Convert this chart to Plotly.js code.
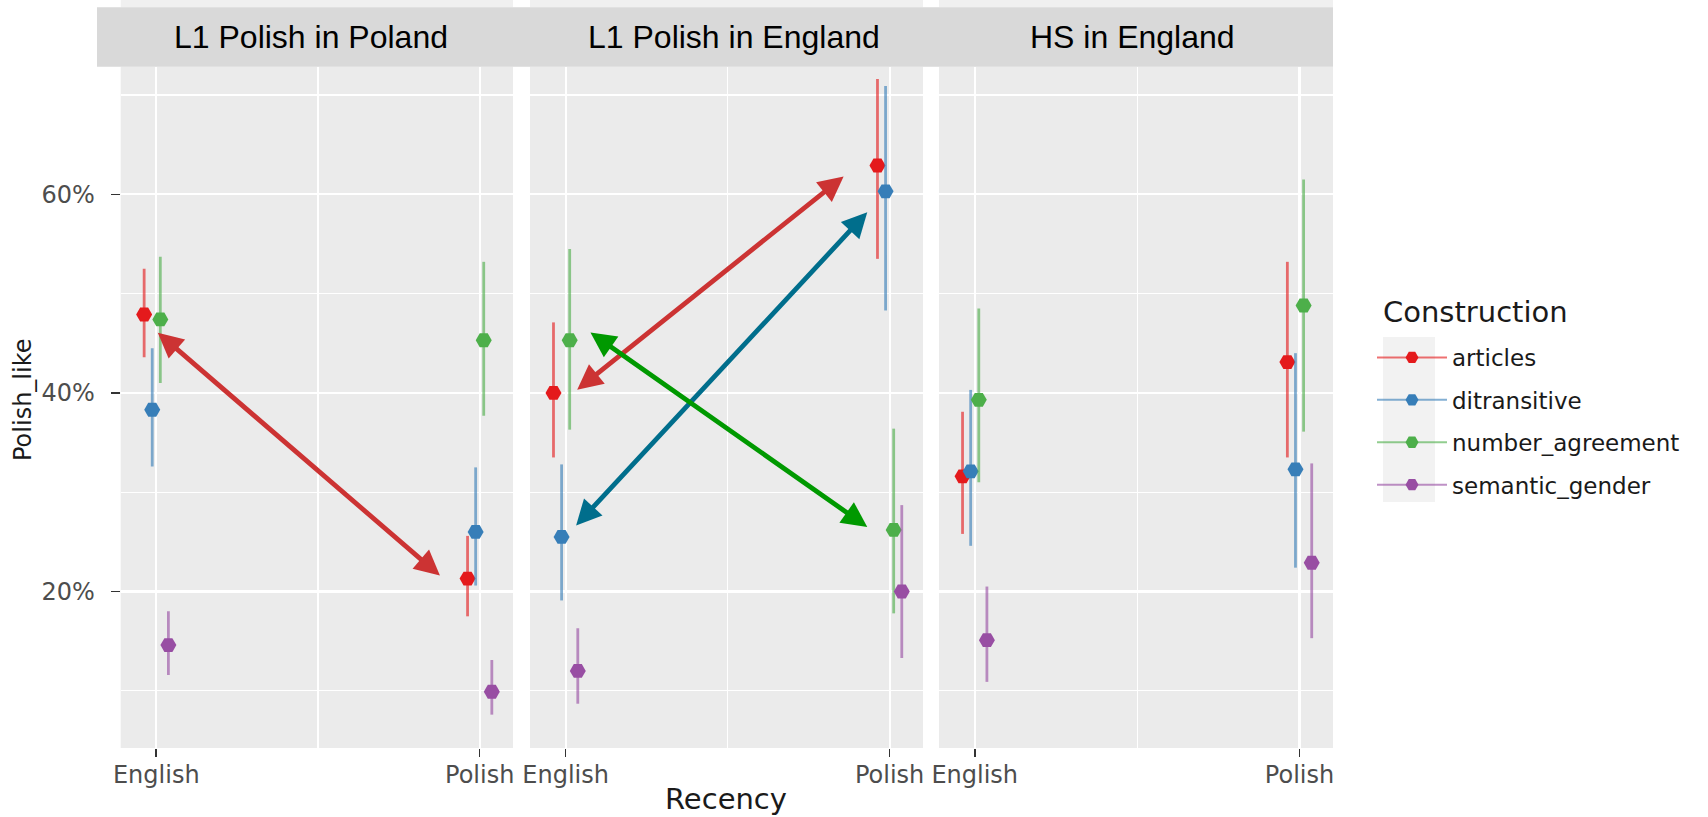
<!DOCTYPE html>
<html>
<head>
<meta charset="utf-8">
<script src="https://cdn.plot.ly/plotly-3.0.1.min.js"></script>
<style>
  html, body { margin: 0; padding: 0; background: #ffffff; }
  #chart { width: 1708px; height: 817px; }
</style>
</head>
<body>
<div id="chart"></div>
<script>
// ---------------- data (percent) ----------------
// order of every value array: [Poland-English, Poland-Polish, EnglandL1-English, EnglandL1-Polish, HS-English, HS-Polish]
const panels = ['L1 Polish in Poland', 'L1 Polish in England', 'HS in England'];
const recency = ['English', 'Polish'];
const constructions = ['articles', 'ditransitive', 'number_agreement', 'semantic_gender'];

const articles_mean = [47.9, 21.3, 40.0, 62.9, 31.6, 43.1];
const articles_lo   = [43.6, 17.5, 33.5, 53.5, 25.8, 33.5];
const articles_hi   = [52.5, 25.6, 47.1, 71.6, 38.1, 53.2];

const ditransitive_mean = [38.3, 26.0, 25.5, 60.3, 32.1, 32.3];
const ditransitive_lo   = [32.6, 20.6, 19.1, 48.3, 24.6, 22.4];
const ditransitive_hi   = [44.5, 32.5, 32.8, 70.9, 40.3, 44.0];

const number_agreement_mean = [47.4, 45.3, 45.3, 26.2, 39.3, 48.8];
const number_agreement_lo   = [41.0, 37.7, 36.3, 17.8, 31.0, 36.1];
const number_agreement_hi   = [53.7, 53.2, 54.5, 36.4, 48.5, 61.5];

const semantic_gender_mean = [14.6, 9.9, 12.0, 20.0, 15.1, 22.9];
const semantic_gender_lo   = [11.6, 7.6, 8.7, 13.3, 10.9, 15.3];
const semantic_gender_hi   = [18.0, 13.1, 16.3, 28.7, 20.5, 32.9];

const yTicks = [20, 40, 60];
const yMinor = [10, 30, 50, 70];

// ---------------- styling / layout config ----------------
const W = 1708, H = 817;
const colors = ['#E41A1C', '#377EB8', '#4DAF4A', '#984EA3'];
const barColors = ['rgba(228,26,28,0.62)', 'rgba(55,126,184,0.62)', 'rgba(77,175,74,0.62)', 'rgba(152,78,163,0.62)'];
const series = [
  [articles_mean, articles_lo, articles_hi],
  [ditransitive_mean, ditransitive_lo, ditransitive_hi],
  [number_agreement_mean, number_agreement_lo, number_agreement_hi],
  [semantic_gender_mean, semantic_gender_lo, semantic_gender_hi]
];
const dodgeWidth = 0.1;
const xPanelPx = [[120.7, 513], [530, 923], [939, 1333]];
const plotTopPx = 66.7, plotBotPx = 748;
const X_RANGE = [0.89, 2.103];
const Y_RANGE = [4.24, 72.85];
const tickFont = { family: 'DejaVu Sans', size: 24, color: '#4D4D4D' };

const axisNames = ['x', 'x2', 'x3'];
const traces = [];

series.forEach(function (s, si) {
  const mean = s[0], lo = s[1], hi = s[2];
  const off = (si - 1.5) * dodgeWidth / 4;
  panels.forEach(function (p, pi) {
    const ys = [], plus = [], minus = [], xs = [];
    recency.forEach(function (r, ri) {
      const k = pi * 2 + ri;
      xs.push(ri + 1 + off);
      ys.push(mean[k]);
      plus.push(hi[k] - mean[k]);
      minus.push(mean[k] - lo[k]);
    });
    traces.push({
      type: 'scatter', mode: 'markers',
      x: xs, y: ys, xaxis: axisNames[pi], yaxis: 'y',
      name: constructions[si], legendgroup: constructions[si], showlegend: false,
      marker: { color: colors[si], size: 16, symbol: 'hexagon2', line: { width: 0 } },
      error_y: { type: 'data', symmetric: false, array: plus, arrayminus: minus,
                 color: barColors[si], thickness: 2.8, width: 0 },
      hoverinfo: 'skip'
    });
  });
});
// legend entries
constructions.forEach(function (c, si) {
  traces.push({
    type: 'scatter', mode: 'lines+markers', x: [null], y: [null],
    xaxis: 'x', yaxis: 'y', name: c, legendgroup: c, showlegend: true,
    line: { color: barColors[si], width: 2 },
    marker: { color: colors[si], size: 13, symbol: 'hexagon2' }
  });
});

const layout = {
  width: W, height: H,
  margin: { l: 0, r: 0, t: 0, b: 0, pad: 0, autoexpand: false },
  paper_bgcolor: '#ffffff',
  plot_bgcolor: '#EBEBEB',
  showlegend: true,
  legend: {
    x: 1372 / W, xanchor: 'left', y: 1 - 336 / H, yanchor: 'top',
    bgcolor: 'rgba(0,0,0,0)',
    font: { family: 'DejaVu Sans', size: 23, color: '#1A1A1A' },
    tracegroupgap: 9.5, itemwidth: 70, traceorder: 'grouped'
  },
  annotations: [],
  shapes: []
};

const yDomain = [1 - plotBotPx / H, 1 - plotTopPx / H];
layout.yaxis = {
  domain: yDomain, range: Y_RANGE, anchor: 'x',
  tickmode: 'array', tickvals: yTicks, ticktext: yTicks.map(function (v) { return v + '%'; }),
  showgrid: true, gridcolor: '#FFFFFF', gridwidth: 2.2,
  minor: { tickmode: 'array', tickvals: yMinor, showgrid: true, gridcolor: '#FFFFFF', gridwidth: 1.2, ticks: '' },
  ticks: 'outside', ticklen: 9, tickwidth: 1.6, tickcolor: '#333333',
  tickfont: tickFont, ticklabelstandoff: 11,
  zeroline: false, showline: false, fixedrange: true
};

axisNames.forEach(function (a, pi) {
  const key = pi === 0 ? 'xaxis' : 'xaxis' + (pi + 1);
  layout[key] = {
    domain: [xPanelPx[pi][0] / W, xPanelPx[pi][1] / W], range: X_RANGE, anchor: 'y',
    tickmode: 'array', tickvals: [1, 2], ticktext: recency,
    showgrid: true, gridcolor: '#FFFFFF', gridwidth: 2.2,
    minor: { tickmode: 'array', tickvals: [1.5], showgrid: true, gridcolor: '#FFFFFF', gridwidth: 1.2, ticks: '' },
    ticks: 'outside', ticklen: 8, tickwidth: 1.6, tickcolor: '#333333',
    tickfont: tickFont, ticklabelstandoff: -3,
    zeroline: false, showline: false, fixedrange: true
  };
  // faint band above strip
  layout.shapes.push({ type: 'rect', xref: 'paper', yref: 'paper', layer: 'below',
    x0: xPanelPx[pi][0] / W, x1: xPanelPx[pi][1] / W, y0: 1 - 7.3 / H, y1: 1,
    fillcolor: '#F0F0F0', line: { width: 0 } });
});

// strip band
layout.shapes.push({ type: 'rect', xref: 'paper', yref: 'paper',
  x0: 97 / W, x1: 1333 / W, y0: 1 - plotTopPx / H, y1: 1 - 7.3 / H,
  fillcolor: '#D9D9D9', line: { width: 0 } });
// legend key background
layout.shapes.push({ type: 'rect', xref: 'paper', yref: 'paper', layer: 'below',
  x0: 1383 / W, x1: 1435 / W, y0: 1 - 502 / H, y1: 1 - 337 / H,
  fillcolor: '#F2F2F2', line: { width: 0 } });

// strip labels
const stripCenters = [311, 734, 1132];
panels.forEach(function (p, pi) {
  layout.annotations.push({ xref: 'paper', yref: 'paper', x: stripCenters[pi] / W, y: 1 - 37 / H,
    text: p, showarrow: false, xanchor: 'center', yanchor: 'middle',
    font: { family: 'Liberation Sans', size: 32, color: '#000000' } });
});
// legend title
layout.annotations.push({ xref: 'paper', yref: 'paper', x: 1381 / W, y: 1 - 312 / H,
  text: 'Construction', showarrow: false, xanchor: 'left', yanchor: 'middle',
  font: { family: 'DejaVu Sans', size: 29, color: '#1A1A1A' } });
// axis titles
layout.annotations.push({ xref: 'paper', yref: 'paper', x: 726 / W, y: 1 - 799 / H,
  text: 'Recency', showarrow: false, xanchor: 'center', yanchor: 'middle',
  font: { family: 'DejaVu Sans', size: 29, color: '#1A1A1A' } });
layout.annotations.push({ xref: 'paper', yref: 'paper', x: 23 / W, y: 1 - 400 / H,
  text: 'Polish_like', showarrow: false, textangle: -90, xanchor: 'center', yanchor: 'middle',
  font: { family: 'DejaVu Sans', size: 24, color: '#1A1A1A' } });

// double-headed arrows drawn over the panels (axis coordinates)
const arrows = [
  { ax: 'x',  x0: 1.000, y0: 46.2, x1: 1.877, y1: 21.6, color: '#CC3333' },
  { ax: 'x2', x0: 1.031, y0: 40.2, x1: 1.858, y1: 61.8, color: '#CC3333' },
  { ax: 'x2', x0: 1.028, y0: 26.5, x1: 1.931, y1: 58.2, color: '#006E8C' },
  { ax: 'x2', x0: 1.072, y0: 46.2, x1: 1.931, y1: 26.5, color: '#009900' }
];
arrows.forEach(function (a) {
  layout.annotations.push({
    xref: a.ax, yref: 'y', axref: a.ax, ayref: 'y',
    x: a.x1, y: a.y1, ax: a.x0, ay: a.y0, text: '',
    showarrow: true, arrowside: 'end+start',
    arrowhead: 2, startarrowhead: 2, arrowsize: 1.05, startarrowsize: 1.05,
    arrowwidth: 4.8, arrowcolor: a.color, standoff: 0, startstandoff: 0
  });
});

Plotly.newPlot('chart', traces, layout, { displayModeBar: false, staticPlot: true });
</script>
</body>
</html>
